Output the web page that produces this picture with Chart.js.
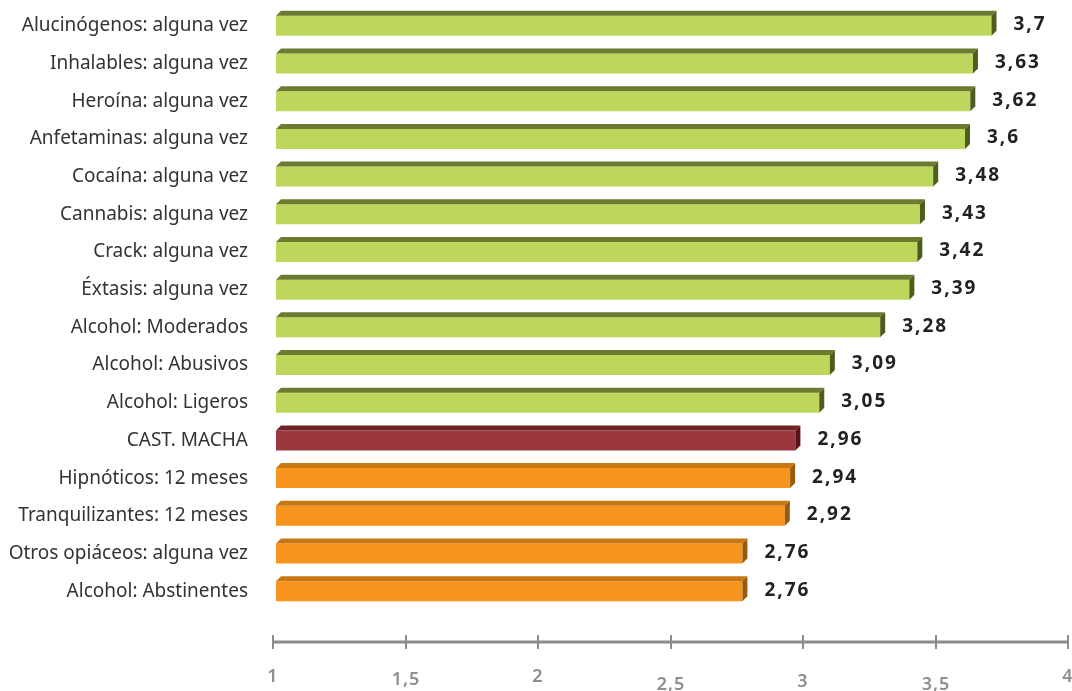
<!DOCTYPE html>
<html lang="es">
<head>
    <meta charset="UTF-8">
    <title>Consumo de drogas - CAST. MACHA</title>
    <script src="https://cdn.jsdelivr.net/npm/chart.js"></script>
    <style>
        body { margin: 0; background: #fff; }
        #wrap { width: 1072px; height: 691px; }
    </style>
</head>
<body>
    <div id="wrap">
        <canvas id="myChart" width="1072" height="691"></canvas>
    </div>

    <script>
        const categories = [
            "Alucinógenos: alguna vez",
            "Inhalables: alguna vez",
            "Heroína: alguna vez",
            "Anfetaminas: alguna vez",
            "Cocaína: alguna vez",
            "Cannabis: alguna vez",
            "Crack: alguna vez",
            "Éxtasis: alguna vez",
            "Alcohol: Moderados",
            "Alcohol: Abusivos",
            "Alcohol: Ligeros",
            "CAST. MACHA",
            "Hipnóticos: 12 meses",
            "Tranquilizantes: 12 meses",
            "Otros opiáceos: alguna vez",
            "Alcohol: Abstinentes"
        ];
        const values = [3.7, 3.63, 3.62, 3.6, 3.48, 3.43, 3.42, 3.39, 3.28, 3.09, 3.05, 2.96, 2.94, 2.92, 2.76, 2.76];
        const tickValues = [1, 1.5, 2, 2.5, 3, 3.5, 4];
        const tickLabels = ["1", "1,5", "2", "2,5", "3", "3,5", "4"];

        const refIndex = categories.indexOf("CAST. MACHA");

        // colores: cara, tapa superior, lateral
        const palette = {
            green: ["#bdd75d", "#6b7b2f", "#4f5c1e"],
            red: ["#9a383d", "#6e2327", "#561418"],
            orange: ["#f7941e", "#c97712", "#9a5a0a"]
        };
        const colorsFor = (i) => {
            if (i === refIndex) return palette.red;
            return values[i] > values[refIndex] ? palette.green : palette.orange;
        };

        // barras con efecto 3D + etiquetas de valor
        const bars3d = {
            id: 'bars3d',
            afterDatasetsDraw(chart) {
                const ctx = chart.ctx;
                const meta = chart.getDatasetMeta(0);
                const d = 5;
                const minX = chart.chartArea.left;
                ctx.save();
                meta.data.forEach((bar, i) => {
                    const c = colorsFor(i);
                    const top = bar.y - bar.height / 2;
                    const bottom = bar.y + bar.height / 2;
                    const x0 = Math.max(bar.base, minX), x1 = bar.x;

                    ctx.fillStyle = c[1];
                    ctx.beginPath();
                    ctx.moveTo(x0, top);
                    ctx.lineTo(x0 + d, top - d);
                    ctx.lineTo(x1 + d, top - d);
                    ctx.lineTo(x1, top);
                    ctx.closePath();
                    ctx.fill();

                    ctx.fillStyle = c[2];
                    ctx.beginPath();
                    ctx.moveTo(x1, top);
                    ctx.lineTo(x1 + d, top - d);
                    ctx.lineTo(x1 + d, bottom - d);
                    ctx.lineTo(x1, bottom);
                    ctx.closePath();
                    ctx.fill();

                    ctx.fillStyle = '#222';
                    ctx.font = 'bold 19px "Noto Sans"';
                    ctx.letterSpacing = '2px';
                    ctx.textAlign = 'left';
                    ctx.textBaseline = 'middle';
                    ctx.fillText(String(values[i]).replace('.', ','), x1 + d + 17, bar.y - 1);
                });
                ctx.restore();
            }
        };

        // eje X separado, debajo de las barras
        const xAxisLine = {
            id: 'xAxisLine',
            afterDraw(chart) {
                const ctx = chart.ctx;
                const xs = chart.scales.x;
                const y = chart.chartArea.bottom + 32;
                const shift = -3;
                const labelDy = [35, 38, 35, 43, 40, 43, 35];
                const left = xs.getPixelForValue(tickValues[0]) + shift;
                const right = xs.getPixelForValue(tickValues[tickValues.length - 1]) + shift;
                ctx.save();
                ctx.strokeStyle = '#8c8c8c';
                ctx.lineWidth = 3;
                ctx.beginPath();
                ctx.moveTo(left, y);
                ctx.lineTo(right, y);
                ctx.stroke();
                ctx.lineWidth = 2;
                ctx.fillStyle = '#8f8f8f';
                ctx.font = '600 18px "Noto Sans"';
                ctx.letterSpacing = '1px';
                ctx.textAlign = 'center';
                ctx.textBaseline = 'middle';
                tickValues.forEach((v, i) => {
                    const px = Math.round(xs.getPixelForValue(v) + shift);
                    ctx.beginPath();
                    ctx.moveTo(px, y - 7);
                    ctx.lineTo(px, y + 7);
                    ctx.stroke();
                    ctx.fillText(tickLabels[i], px, y + labelDy[i]);
                });
                ctx.restore();
            }
        };

        const ctx = document.getElementById('myChart').getContext('2d');
        const myChart = new Chart(ctx, {
            type: 'bar',
            data: {
                labels: categories,
                datasets: [{
                    data: values,
                    backgroundColor: (c) => colorsFor(c.dataIndex)[0],
                    borderWidth: 0,
                    barPercentage: 0.53,
                    categoryPercentage: 1
                }]
            },
            options: {
                indexAxis: 'y',
                responsive: false,
                animation: false,
                layout: {
                    padding: { top: 7, bottom: 81, left: 0, right: 1 }
                },
                scales: {
                    x: {
                        display: false,
                        min: 1,
                        max: 4
                    },
                    y: {
                        afterFit: (scale) => {
                            scale.width = 276;
                            scale.paddingTop = 0;
                            scale.paddingBottom = 0;
                        },
                        grid: { display: false },
                        border: { display: false },
                        ticks: {
                            padding: 20,
                            color: '#333',
                            font: { family: 'Noto Sans', size: 19 }
                        }
                    }
                },
                plugins: {
                    legend: { display: false },
                    tooltip: { enabled: false }
                }
            },
            plugins: [bars3d, xAxisLine]
        });
    </script>
</body>
</html>
